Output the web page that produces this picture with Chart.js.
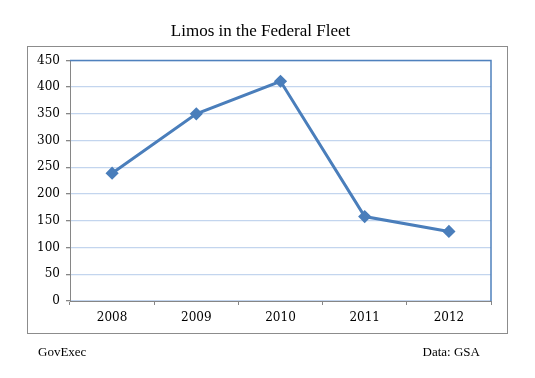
<!DOCTYPE html>
<html>
<head>
<meta charset="utf-8">
<script src="https://cdn.jsdelivr.net/npm/chart.js@4/dist/chart.umd.min.js"></script>
<style>
  html, body { margin: 0; padding: 0; background: #fff; }
  #wrap { position: relative; width: 535px; height: 378px; }
  #frame { position: absolute; left: 27px; top: 46px; width: 479px; height: 286px; border: 1px solid #8c8c8c; box-sizing: content-box; pointer-events: none; }
  .note { position: absolute; top: 344px; font-family: "Liberation Serif", serif; font-size: 13px; color: #000; }
  #src { left: 38px; }
  #data { right: 55px; }
</style>
</head>
<body>
<div id="wrap">
  <canvas id="c" width="535" height="378"></canvas>
  <div id="frame"></div>
  <div class="note" id="src">GovExec</div>
  <div class="note" id="data">Data: GSA</div>
</div>
<script>
const titleText = "Limos in the Federal Fleet";
const years = ["2008", "2009", "2010", "2011", "2012"];
const limos = [239, 350, 411, 158, 130];
const yTicks = [0, 50, 100, 150, 200, 250, 300, 350, 400, 450];

const lineBlue = "#4a7ebb";
const frameBlue = "#4f81bd";
const gridBlue = "#c3d5ee";
const axisGray = "#868686";

const plotBorder = {
  id: "plotBorder",
  afterDatasetsDraw(chart) {
    const a = chart.chartArea, ctx = chart.ctx;
    ctx.save();
    ctx.strokeStyle = frameBlue;
    ctx.lineWidth = 1.5;
    ctx.beginPath();
    ctx.moveTo(a.left, a.top);
    ctx.lineTo(a.right, a.top);
    ctx.lineTo(a.right, a.bottom);
    ctx.stroke();
    ctx.restore();
  }
};

new Chart(document.getElementById("c"), {
  type: "line",
  data: {
    labels: years,
    datasets: [{
      data: limos,
      borderColor: lineBlue,
      backgroundColor: lineBlue,
      borderWidth: 3,
      pointStyle: "rectRot",
      pointRadius: 4.5,
      pointHoverRadius: 4.5,
      tension: 0
    }]
  },
  options: {
    responsive: false,
    animation: false,
    events: [],
    layout: { padding: { left: 30, right: 44, top: 0, bottom: 47 } },
    plugins: {
      legend: { display: false },
      tooltip: { enabled: false },
      title: {
        display: true,
        text: titleText,
        color: "#000",
        font: { family: "Liberation Serif", size: 17, weight: "normal" },
        padding: { top: 21, bottom: 19 }
      }
    },
    scales: {
      x: {
        offset: true,
        grid: { offset: true, drawOnChartArea: false, color: axisGray, tickLength: 4 },
        border: { color: axisGray },
        ticks: { color: "#000", padding: 6, font: { family: "DejaVu Serif", size: 12 } },
        afterFit(s) { s.height = 30; }
      },
      y: {
        min: 0, max: 450,
        afterBuildTicks(s) { s.ticks = yTicks.map(v => ({ value: v })); },
        grid: {
          color: gridBlue,
          tickColor: axisGray,
          tickLength: 4,
          lineWidth: 1.3
        },
        border: { color: axisGray },
        ticks: { color: "#000", padding: 6, font: { family: "DejaVu Serif", size: 12 } },
        afterFit(s) { s.width = 40; }
      }
    }
  },
  plugins: [plotBorder]
});
</script>
</body>
</html>
